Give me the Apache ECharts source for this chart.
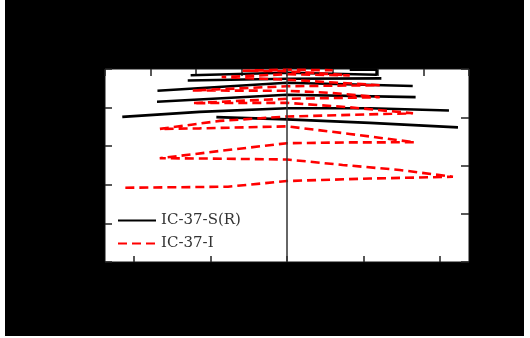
<!DOCTYPE html>
<html>
<head>
<meta charset="utf-8">
<script src="https://cdn.jsdelivr.net/npm/echarts@6/dist/echarts.min.js"></script>
<style>
html,body{margin:0;padding:0;background:#fff;width:530px;height:338px;overflow:hidden;}
#c{position:absolute;left:5px;top:0;width:519px;height:336px;}
</style>
</head>
<body>
<div id="c"></div>
<script>
// Series names
const seriesNames = ['IC-37-S(R)', 'IC-37-I'];

// IC-37-S(R): separate strokes, null separates strokes
const solidX = [-63.0, 0, 58.6, 58.6, 41.0, null,
                -64.9, 0, 61.7, null,
                -84.7, 0, 82.2, null,
                -85.0, 0, 84.1, null,
                -107.7, -57.1, 0, 54.1, 105.9, null,
                -46.2, 0, 54.1, 111.8];
const solidY = [241.9, 245.2, 242.6, 249.1, 249.1, null,
                235.2, 237.4, 237.8, null,
                221.8, 232.2, 227.9, null,
                207.5, 216.6, 213.6, null,
                188.0, 194.5, 199.1, 199.1, 196.2, null,
                187.6, 184.8, 180.2, 174.4];

// IC-37-I: continuous path
const dashX = [-105.7, -38.6, 0, 54.1, 108.5,
               73.7, 36.4, 0, -57.1, -83.2,
               -44.0, 0, 41.0, 83.5,
               41.0, 0, -57.1, -83.2,
               -44.0, 0, 41.0, 82.4,
               41.0, 0, -61.7,
               -30.9, 0, 60.6,
               27.9, 0, -61.7,
               0, 60.6,
               0, -42.7,
               0, 41.0,
               0, -29.0,
               0, 29.9];
const dashY = [96.2, 97.5, 104.9, 108.1, 110.4,
               119.2, 125.7, 132.8, 134.1, 134.4,
               143.8, 153.9, 154.9, 155.1,
               165.9, 175.7, 173.1, 172.4,
               182.8, 188.4, 190.6, 192.6,
               200.4, 206.2, 205.8,
               208.8, 211.4, 213.4,
               219.2, 221.8, 222.2,
               227.7, 229.0,
               236.1, 239.6,
               243.2, 241.7,
               247.2, 247.8,
               249.1, 248.4];

// Axis ticks
const bottomTicks = [-100, -50, 0, 50, 100];
const xRange = [-119, 119];
const topRange = [-4, 4];
const leftRange = [0, 250];
const rightRange = [0, 4];

function pairs(xs, ys) {
  return xs.map((x, i) => (x === null ? '-' : [x, ys[i]]));
}

const tickStyle = {color: '#222', width: 1.5};
const noLine = {show: false, onZero: false};
const chart = echarts.init(document.getElementById('c'));
chart.setOption({
  backgroundColor: '#000',
  animation: false,
  grid: {left: 100, top: 69, width: 364, height: 193, show: true, backgroundColor: '#fff', borderColor: '#111', borderWidth: 1},
  legend: {
    orient: 'vertical', left: 112, top: 213, padding: 0, itemWidth: 38, itemHeight: 14, itemGap: 8,
    data: seriesNames,
    itemStyle: {opacity: 0},
    textStyle: {fontFamily: 'DejaVu Serif', fontSize: 15, color: '#333'}
  },
  xAxis: [
    {type: 'value', position: 'bottom', min: xRange[0], max: xRange[1],
     axisLine: noLine, splitLine: {show: false}, axisLabel: {show: false},
     axisTick: {show: true, inside: true, length: 6, customValues: bottomTicks, lineStyle: tickStyle}},
    {type: 'value', position: 'top', min: topRange[0], max: topRange[1], interval: 1,
     axisLine: noLine, splitLine: {show: false}, axisLabel: {show: false},
     axisTick: {show: true, inside: true, length: 7, lineStyle: tickStyle}}
  ],
  yAxis: [
    {type: 'value', position: 'left', min: leftRange[0], max: leftRange[1], interval: 50,
     axisLine: noLine, splitLine: {show: false}, axisLabel: {show: false},
     axisTick: {show: true, inside: true, length: 7, lineStyle: tickStyle}},
    {type: 'value', position: 'right', min: rightRange[0], max: rightRange[1], interval: 1,
     axisLine: noLine, splitLine: {show: false}, axisLabel: {show: false},
     axisTick: {show: true, inside: true, length: 8, lineStyle: tickStyle}}
  ],
  series: [
    {name: seriesNames[0], type: 'line', symbol: 'none', connectNulls: false, z: 2,
     data: pairs(solidX, solidY),
     lineStyle: {color: '#000', width: 2.6, type: 'solid'}, itemStyle: {color: '#000'}},
    {name: seriesNames[1], type: 'line', symbol: 'none', z: 3,
     data: pairs(dashX, dashY),
     lineStyle: {color: '#ff0000', width: 2.6, type: [9, 5]}, itemStyle: {color: '#ff0000'},
     markLine: {silent: true, symbol: 'none', label: {show: false},
       lineStyle: {color: '#333', width: 1.5, type: 'solid'}, data: [{xAxis: 0}]}}
  ]
});
</script>
</body>
</html>
